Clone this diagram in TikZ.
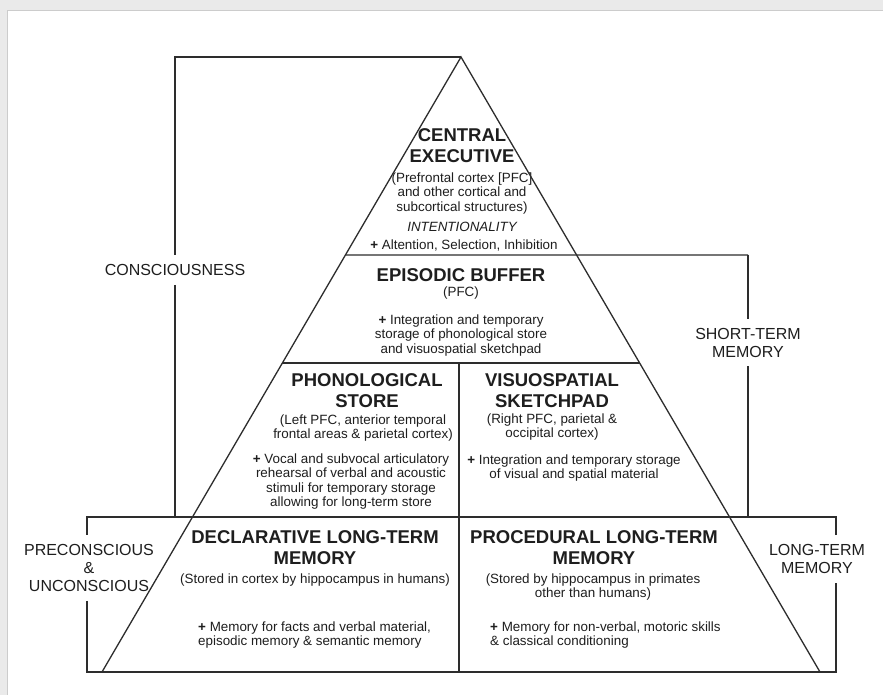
\documentclass[tikz,border=0pt]{standalone}
\usepackage{fontspec}
\setmainfont{Liberation Sans}
\usetikzlibrary{calc}
\definecolor{inkgray}{RGB}{45,45,45}
\definecolor{textgray}{RGB}{30,30,30}
\definecolor{framegray}{RGB}{234,234,234}

\tikzset{
  wire/.style={draw=inkgray,line width=1.3pt,line join=miter},
  head/.style={font=\bfseries\fontsize{18.5}{21}\selectfont,text=textgray,
    align=center,inner sep=0pt,anchor=north},
  info/.style={font=\fontsize{13.4}{14.5}\selectfont,text=textgray,
    align=center,inner sep=0pt,anchor=north},
  side/.style={font=\fontsize{16}{18}\selectfont,text=textgray,
    align=center,inner xsep=1pt,inner ysep=9pt}
}

\begin{document}
\begin{tikzpicture}[x=1pt,y=-1pt]
\useasboundingbox (0,0) rectangle (883,695);
% screenshot frame
\fill[framegray] (0,0) rectangle (883,695);
\filldraw[fill=white,draw=gray!40] (7,10) rectangle (892,704);

% pyramid corners and levels
\coordinate (apex) at (461,57);
\coordinate (bl) at (102,672);
\coordinate (br) at (820,672);
\coordinate (l1) at ($(apex)!0.322!(bl)$);
\coordinate (r1) at ($(apex)!0.322!(br)$);
\coordinate (l2) at ($(apex)!0.4976!(bl)$);
\coordinate (r2) at ($(apex)!0.4976!(br)$);
\coordinate (mid) at (459,363);
% brackets
\coordinate (ctop) at (175,57);
\coordinate (cbot) at (175,517);
\coordinate (stop) at (748,255);
\coordinate (sbot) at (748,517);
\coordinate (lttl) at (87,517);
\coordinate (lttr) at (836,517);
\coordinate (ltbl) at (87,672);
\coordinate (ltbr) at (836,672);

% side labels
\node[side] (con) at (175,270) {CONSCIOUSNESS};
\node[side] (stm) at (748,342.5) {SHORT-TERM\\MEMORY};
\node[side] (ltm) at (817,559) {LONG-TERM\\MEMORY};
\node[side] (pre) at (89,568) {PRECONSCIOUS\\\&\\UNCONSCIOUS};

% central executive
\node[head] (ceh) at (462,128.7) {CENTRAL\\EXECUTIVE};
\node[info] (ces) at (462,172.5) {(Prefrontal cortex [PFC]\\and other cortical and\\subcortical structures)};
\node[info,anchor=base,font=\itshape\fontsize{13.4}{14.5}\selectfont] (cei) at (462,231) {INTENTIONALITY};
\node[info,anchor=base] (ceb) at (464,249) {\textbf{+} Altention, Selection, Inhibition};

% episodic buffer
\node[head] (ebh) at (461,268.7) {EPISODIC BUFFER};
\node[info,anchor=base] (ebs) at (461,296) {(PFC)};
\node[info] (ebb) at (461,314.5) {\textbf{+} Integration and temporary\\storage of phonological store\\and visuospatial sketchpad};

% phonological store
\node[head] (psh) at (367,373.7) {PHONOLOGICAL\\STORE};
\node[info] (pss) at (363,414.5) {(Left PFC, anterior temporal\\frontal areas \& parietal cortex)};
\node[info] (psb) at (351,453.5) {\textbf{+} Vocal and subvocal articulatory\\rehearsal of verbal and acoustic\\stimuli for temporary storage\\allowing for long-term store};

% visuospatial sketchpad
\node[head] (vsh) at (552,373.7) {VISUOSPATIAL\\SKETCHPAD};
\node[info] (vss) at (552,413.5) {(Right PFC, parietal \&\\occipital cortex)};
\node[info] (vsb) at (574,454.5) {\textbf{+} Integration and temporary storage\\of visual and spatial material};

% declarative long-term memory
\node[head] (dlh) at (315,530.7) {DECLARATIVE LONG-TERM\\MEMORY};
\node[info,anchor=base] (dls) at (315,583) {(Stored in cortex by hippocampus in humans)};
\node[info,anchor=north west,align=left] (dlb) at (198,621.5) {\textbf{+} Memory for facts and verbal material,\\episodic memory \& semantic memory};

% procedural long-term memory
\node[head] (plh) at (594,530.7) {PROCEDURAL LONG-TERM\\MEMORY};
\node[info] (pls) at (593,573.5) {(Stored by hippocampus in primates\\other than humans)};
\node[info,anchor=north west,align=left] (plb) at (490,621.5) {\textbf{+} Memory for non-verbal, motoric skills\\\& classical conditioning};

% pyramid
\draw[wire] (apex) -- (bl) -- (br) -- cycle;
\draw[wire] (l1) -- (stop);
\draw[wire] (l2) -- (r2);
\draw[wire] (mid) -- (mid |- bl);
% consciousness bracket
\draw[wire] (apex) -- (ctop) -- (con.north);
\draw[wire] (con.south) -- (cbot);
% short-term bracket
\draw[wire] (stop) -- (stm.north);
\draw[wire] (stm.south) -- (sbot);
% long-term box
\draw[wire] (pre.south -| lttl) -- (ltbl) -- (ltbr) -- (ltm.south -| ltbr);
\draw[wire] (ltm.north -| ltbr) -- (lttr) -- (lttl) -- (pre.north -| lttl);
\end{tikzpicture}
\end{document}
